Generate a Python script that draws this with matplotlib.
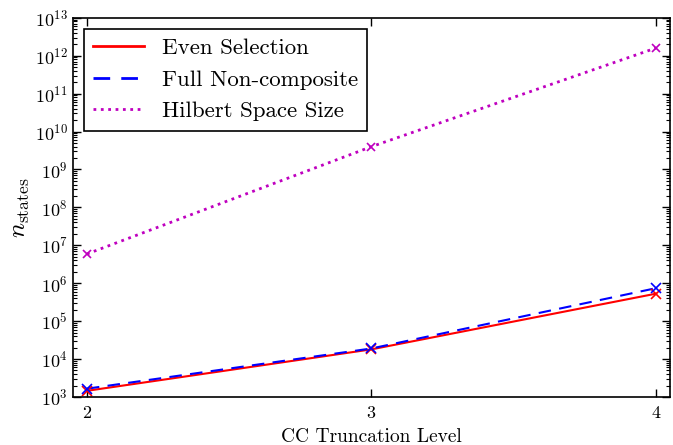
import matplotlib
matplotlib.use('Agg')
import matplotlib.pyplot as plt
from matplotlib.ticker import LogLocator, FixedLocator

plt.rcParams['font.family'] = ['cmr10', 'DejaVu Serif']
plt.rcParams['mathtext.fontset'] = 'cm'
plt.rcParams['axes.formatter.use_mathtext'] = True
plt.rcParams['xtick.direction'] = 'in'
plt.rcParams['ytick.direction'] = 'in'
plt.rcParams['xtick.top'] = True
plt.rcParams['ytick.right'] = True

levels = [2, 3, 4]
even_selection = [1.45e3, 1.8e4, 5.3e5]
full_noncomposite = [1.65e3, 1.9e4, 7.4e5]
hilbert_size = [5.9e6, 4.0e9, 1.6e12]

fig = plt.figure(figsize=(6.73, 4.45), dpi=100)
ax = fig.add_axes([0.108, 0.108, 0.888, 0.852])

ax.plot(levels, even_selection, 'r-', lw=1.5, label='Even Selection')
ax.plot(levels, full_noncomposite, 'b--', lw=1.5, dashes=(6, 4), label='Full Non-composite')
ax.plot(levels, hilbert_size, 'm:', lw=2, label='Hilbert Space Size')
ax.plot(levels, even_selection, 'rx', ms=7, mew=1.2)
ax.plot(levels, full_noncomposite, 'bx', ms=7, mew=1.2)
ax.plot(levels, hilbert_size, 'mx', ms=6, mew=1.2)

ax.set_yscale('log')
ax.set_ylim(1e3, 1e13)
ax.set_xlim(1.95, 4.05)
ax.xaxis.set_major_locator(FixedLocator(levels))
ax.yaxis.set_major_locator(LogLocator(base=10, numticks=20))
ax.yaxis.set_minor_locator(LogLocator(base=10, subs=range(2, 10), numticks=20))
ax.tick_params(which='major', length=6, width=1, labelsize=13)
ax.tick_params(axis='x', which='major', pad=6)
ax.tick_params(which='minor', length=3, width=0.8)
for s in ax.spines.values():
    s.set_linewidth(1.2)

ax.set_xlabel('CC Truncation Level', fontsize=14, labelpad=5)
ax.set_ylabel(r'$n_{\rm states}$', fontsize=18, labelpad=2)

leg = ax.legend(loc='upper left', fontsize=16.5, fancybox=False, framealpha=1,
                edgecolor='black', handlelength=2.2, borderaxespad=0.5)
leg.get_frame().set_linewidth(1.2)
for line in leg.get_lines():
    line.set_linewidth(2)

fig.savefig('out.png', dpi=100)
